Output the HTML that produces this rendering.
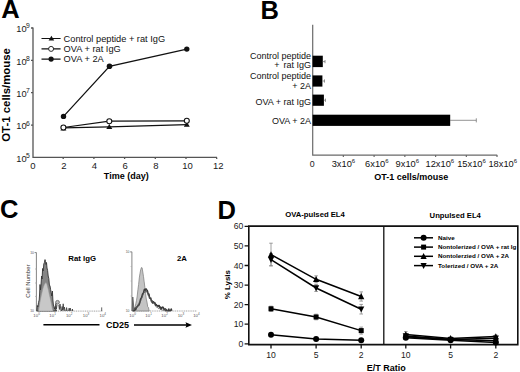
<!DOCTYPE html>
<html><head><meta charset="utf-8">
<style>
html,body{margin:0;padding:0;background:#fff;}
body{width:520px;height:372px;overflow:hidden;}
svg{display:block;font-family:"Liberation Sans",sans-serif;}
.b{font-weight:bold;}
</style></head>
<body>
<svg width="520" height="372" viewBox="0 0 520 372">
<rect width="520" height="372" fill="#fff"/>
<defs>
<circle id="ci" r="3"/>
<rect id="sq" x="-2.5" y="-2.5" width="5" height="5"/>
<path id="ut" d="M0 -3.4 L3.1 2.7 H-3.1 Z"/>
<path id="dt" d="M0 3.4 L3.1 -2.7 H-3.1 Z"/>
</defs>

<!-- ================= PANEL A ================= -->
<text x="1.2" y="17.9" font-size="25.5" class="b">A</text>
<!-- y label -->
<text transform="translate(10.2,94.9) rotate(-90)" text-anchor="middle" font-size="11.4" class="b">OT-1 cells/mouse</text>
<!-- axes -->
<g stroke="#555" stroke-width="1.3" fill="none">
<path d="M33 27.5 V157.4 H217"/>
<path d="M31 28 H33 M31 60.4 H33 M31 92.7 H33 M31 125.1 H33"/>
<path d="M63.2 157.4 V159 M93.9 157.4 V159 M124.6 157.4 V159 M155.3 157.4 V159 M186 157.4 V159 M216.7 157.4 V159"/>
</g>
<g font-size="9.3" fill="#1a1a1a">
<text x="26.6" y="32" text-anchor="end">10</text><text x="26.1" y="28.3" font-size="6.8">9</text>
<text x="26.6" y="64.6" text-anchor="end">10</text><text x="26.1" y="60.9" font-size="6.8">8</text>
<text x="26.6" y="97" text-anchor="end">10</text><text x="26.1" y="93.3" font-size="6.8">7</text>
<text x="26.6" y="129.4" text-anchor="end">10</text><text x="26.1" y="125.7" font-size="6.8">6</text>
<text x="26.6" y="161.6" text-anchor="end">10</text><text x="26.1" y="157.9" font-size="6.8">5</text>
</g>
<g font-size="9.5" fill="#1a1a1a" text-anchor="middle">
<text x="32.8" y="168.9">0</text>
<text x="64" y="168.9">2</text>
<text x="94.5" y="168.9">4</text>
<text x="125.1" y="168.9">6</text>
<text x="155.8" y="168.9">8</text>
<text x="187.5" y="168.9">10</text>
<text x="218.3" y="168.9">12</text>
</g>
<text x="126.3" y="179" font-size="9" class="b" text-anchor="middle">Time (day)</text>
<!-- data -->
<g stroke="#111" stroke-width="1.25" fill="none">
<polyline points="63.5,116.4 109.5,66.3 186.8,49.1"/>
<polyline points="63.4,127.5 109.3,121.2 186.8,120.8"/>
<polyline points="63.4,127.8 109.3,126.8 186.8,124.6"/>
</g>
<g fill="#111">
<circle cx="63.5" cy="116.4" r="2.7"/><circle cx="109.5" cy="66.3" r="2.8"/><circle cx="186.8" cy="49.1" r="2.7"/>
<path d="M63.4 125.6 l3 5 h-6z M109.3 124 l3 5 h-6z M186.8 121.8 l3 5 h-6z"/>
</g>
<g fill="#fff" stroke="#111" stroke-width="1.1">
<circle cx="63.4" cy="127.5" r="2.5"/><circle cx="109.3" cy="121.2" r="2.5"/><circle cx="186.8" cy="120.8" r="2.5"/>
</g>
<!-- legend -->
<g stroke="#111" stroke-width="1.1">
<path d="M41.5 38.5 H60.6 M41.5 48.9 H60.6 M41.5 59.1 H60.6"/>
</g>
<path d="M51.4 35.8 l2.8 4.7 h-5.6z" fill="#111"/>
<circle cx="51.1" cy="48.9" r="2.5" fill="#fff" stroke="#111" stroke-width="0.9"/>
<circle cx="51.1" cy="59.1" r="2.6" fill="#111"/>
<g font-size="9.25" fill="#111">
<text x="63.6" y="41.5">Control peptide + rat IgG</text>
<text x="63.6" y="52.1">OVA + rat IgG</text>
<text x="63.6" y="62.4">OVA + 2A</text>
</g>

<!-- ================= PANEL B ================= -->
<text x="260.4" y="18.6" font-size="25.5" class="b">B</text>
<g stroke="#6a6a6a" stroke-width="1.2" fill="none">
<path d="M312.7 24.8 V155.2 H497.2"/>
<path d="M343.35 155.1 V157 M374.1 155.1 V157 M404.85 155.1 V157 M435.6 155.1 V157 M466.35 155.1 V157 M497 155.1 V157"/>
</g>
<g fill="#000">
<rect x="312.6" y="55.7" width="10.2" height="11.4"/>
<rect x="312.6" y="75.4" width="9.8" height="11.2"/>
<rect x="312.6" y="94.6" width="11.3" height="11.2"/>
<rect x="312.6" y="114.7" width="137.6" height="11.2"/>
</g>
<g stroke="#777" stroke-width="0.8" fill="none">
<path d="M450 120.3 H476.3 M476.3 118.3 V122.4"/>
<path d="M322.8 61.6 H325 M325 60 V63.2"/>
<path d="M322.4 81 H324.5 M324.5 79.4 V82.6"/>
<path d="M323.9 100.2 H325.5 M325.5 98.6 V101.8"/>
</g>
<g font-size="9" fill="#111" text-anchor="end">
<text x="311" y="58.8">Control peptide</text>
<text x="311" y="68.4">+<tspan dx="1.4"> rat IgG</tspan></text>
<text x="311" y="79.1">Control peptide</text>
<text x="311" y="88.8">+ 2A</text>
<text x="311" y="104.8">OVA + rat IgG</text>
<text x="311" y="123.8">OVA + 2A</text>
</g>
<g font-size="8.8" fill="#222" text-anchor="middle">
<text x="312.3" y="166.8">0</text>
</g>
<g font-size="9.3" fill="#111">
<text x="331.7" y="166.8">3x10<tspan font-size="6" dy="-4.1">6</tspan></text>
<text x="365.1" y="166.8">6x10<tspan font-size="6" dy="-4.1">6</tspan></text>
<text x="395.6" y="166.8">9x10<tspan font-size="6" dy="-4.1">6</tspan></text>
<text x="425.5" y="166.8">12x10<tspan font-size="6" dy="-4.1">6</tspan></text>
<text x="457.2" y="166.8">15x10<tspan font-size="6" dy="-4.1">6</tspan></text>
<text x="488.4" y="166.8">18x10<tspan font-size="6" dy="-4.1">6</tspan></text>
</g>
<text x="411.3" y="180.2" font-size="9" class="b" text-anchor="middle">OT-1 cells/mouse</text>

<!-- ================= PANEL C ================= -->
<text x="0" y="218.4" font-size="25.5" class="b">C</text>
<g stroke="#777" stroke-width="0.9" fill="none">
<path d="M36.4 252.5 V311.1 M34.6 252.6 H36.4"/>
<path d="M35.2 269 H36.4 M35.2 283 H36.4 M35.2 296.4 H36.4" stroke="#aaa"/>
<path d="M131.9 251.8 V311 M130.1 251.9 H131.9"/>
<path d="M130.7 266.5 H131.9 M130.7 281 H131.9 M130.7 296 H131.9" stroke="#aaa"/>
</g>
<path d="M36.4 311.1 H103 M131.9 311 H197" stroke="#999" stroke-width="0.9" stroke-dasharray="1.1 0.7" fill="none"/>
<path d="M36.8 311 L37.3 305.5 L37.9 307 L38.5 302.5 L39.2 300 L39.6 294 L40 284.5 L40.5 290 L41 285 L41.6 276 L42.1 279 L42.6 268.5 L43.2 271 L43.8 264 L44.4 262.5 L45 259.6 L45.5 261.5 L46 264.5 L46.5 262.5 L47 268 L47.6 270.5 L48.2 276 L48.8 278.5 L49.4 285 L50 286 L50.6 289.5 L51.2 292.4 L51.8 296 L52.4 291 L52.9 300 L53.4 305 L54 306.5 L54.6 309 L55.3 306.5 L56 309.5 L56.5 311 Z" fill="#858585" stroke="#333" stroke-width="0.9" stroke-linejoin="round"/>
<path d="M38.6 311 L39.5 305 L40.3 300.5 L41.2 296 L42 292.5 L42.8 289 L43.6 286.5 L44.4 284.5 L45.2 283.2 L46 282.6 L46.8 284 L47.6 287 L48.4 290 L49.2 294 L50 297.5 L50.8 301 L51.6 305 L52.4 309 L53 311 Z" fill="#c8c8c8" stroke="#9a9a9a" stroke-width="0.5"/>
<circle cx="57.5" cy="302.3" r="1.9" fill="#bbb" stroke="#555" stroke-width="0.7"/>
<path d="M55.2 311 L55.8 303.5 L56.4 309 L57 305 M58.8 305 L59.4 309.5 L60 304 L60.6 308.5 L61.2 311 M61.5 311 L62.1 306.5 L62.6 310 L63.2 303.8 L63.8 309.5 L64.4 307 L65 311 M66 311 L66.6 307.6 L67.2 311 M68.6 311 L69.1 308.2 L69.6 310.5 L70.2 308 L70.8 311 M72 311 L72.4 309 L72.8 311 M101.7 311 V307.4" stroke="#3a3a3a" stroke-width="0.8" fill="#999" stroke-linejoin="round"/>
<path d="M132.6 311 L133.0 310.5 L133.7 310.1 L134.4 308.1 L135.1 307.2 L135.8 303.8 L136.5 300.4 L137.2 296.1 L137.9 289.8 L138.6 284.5 L139.3 277.9 L140.0 273.3 L140.7 269.7 L141.4 267.6 L142.1 267.8 L142.8 272.0 L143.5 276.6 L144.2 281.8 L144.9 287.4 L145.6 293.8 L146.3 299.1 L147.0 302.1 L147.7 306.6 L148.4 307.3 L149.2 311 Z" fill="#c4c4c4" stroke="#777" stroke-width="0.7"/>
<path d="M132.2 311 L132.8 297 L133.6 305 L134.2 311" fill="#888" stroke="#444" stroke-width="0.7"/>
<path d="M132.8 310.7 L133.4 310.7 L134.0 310.7 L134.6 310.2 L135.2 308.1 L135.8 309.6 L136.4 307.6 L137.0 306.7 L137.6 306.6 L138.2 304.9 L138.8 305.3 L139.4 303.9 L140.0 302.0 L140.6 298.9 L141.2 298.2 L141.8 296.9 L142.4 294.5 L143.0 293.5 L143.6 292.6 L144.2 289.9 L144.8 289.3 L145.4 290.2 L146.0 288.8 L146.6 289.8 L147.2 290.3 L147.8 292.3 L148.4 295.1 L149.0 294.1 L149.6 298.1 L150.2 298.2 L150.8 298.1 L151.4 301.0 L152.0 300.7 L152.6 303.0 L153.2 301.7 L153.8 302.1 L154.4 303.3 L155.0 302.9 L155.6 305.2 L156.2 304.5 L156.8 305.3 L157.4 305.7 L158.0 306.5 L158.6 305.6 L159.2 305.6 L159.8 307.4 L160.4 307.1 L161.0 309.3 L161.6 307.5 L162.2 307.9 L162.8 307.0 L163.4 307.7 L164.0 309.6 L164.6 309.4 L165.2 308.7 L165.8 310.7 L166.4 309.6 L167.0 310.7 L167.6 310.7 L168.2 310.7 L168.8 309.0 L169.4 310.7 L170.0 310.7 L170.6 310.5 L171.2 309.0 L171.8 310.7" fill="none" stroke="#3a3a3a" stroke-width="1.5" stroke-linejoin="round"/>
<path d="M133.5 310.4 L134.2 309.8 L134.9 308.5 L135.6 308.1 L136.3 307.3 L137.0 307.9 L137.7 306.5 L138.4 305.5 L139.1 302.8 L139.8 301.0 L140.5 301.4 L141.2 299.6 L141.9 297.8 L142.6 296.1 L143.3 293.9 L144.0 292.3 L144.7 292.1 L145.4 292.1 L146.1 290.7 L146.8 292.2 L147.5 293.6 L148.2 294.2 L148.9 296.4 L149.6 298.2 L150.3 299.1 L151.0 300.1 L151.7 302.6 L152.4 301.4 L153.1 302.5 L153.8 303.0 L154.5 303.9 L155.2 305.5 L155.9 306.1 L156.6 307.3 L157.3 306.4 L158.0 308.2 L158.7 308.6 L159.4 308.6 L160.1 309.0 L160.8 308.8 L161.5 309.8 L162.2 310.1 L162.9 310.0 L163.6 310.3 L164.3 309.8 L165.0 310.7 L165.7 308.8 L166.4 309.6 L167.1 310.7 L167.8 310.7" fill="none" stroke="#555" stroke-width="0.8" stroke-linejoin="round"/>
<g font-size="4.3" fill="#555" text-anchor="middle"><text x="36.6" y="317">10<tspan font-size="3" dy="-1.6">0</tspan></text><text x="52.6" y="317">10<tspan font-size="3" dy="-1.6">1</tspan></text><text x="69.2" y="317">10<tspan font-size="3" dy="-1.6">2</tspan></text><text x="86" y="317">10<tspan font-size="3" dy="-1.6">3</tspan></text><text x="102.8" y="317">10<tspan font-size="3" dy="-1.6">4</tspan></text><text x="132.6" y="317">10<tspan font-size="3" dy="-1.6">0</tspan></text><text x="148.6" y="317">10<tspan font-size="3" dy="-1.6">1</tspan></text><text x="164.6" y="317">10<tspan font-size="3" dy="-1.6">2</tspan></text><text x="180.9" y="317">10<tspan font-size="3" dy="-1.6">3</tspan></text><text x="196.4" y="317">10<tspan font-size="3" dy="-1.6">4</tspan></text></g>
<g font-size="3.4" fill="#555" text-anchor="end">
<text x="34" y="254">10</text><text x="34" y="312.3">10</text>
<text x="129.5" y="253.3">10</text><text x="129.5" y="312.2">10</text>
</g>
<text transform="translate(29.6,281.2) rotate(-90)" text-anchor="middle" font-size="6" fill="#333">Cell Number</text>
<text x="68.3" y="260.9" font-size="7.8" class="b">Rat IgG</text>
<text x="177" y="261.1" font-size="7.8" class="b">2A</text>
<path d="M43.4 324.8 H99.5 M134 325 H188" stroke="#000" stroke-width="1.4"/>
<path d="M192 325 L185.5 322.2 L186.5 325 L185.5 327.8 Z" fill="#000"/>
<text x="106" y="328" font-size="9" class="b">CD25</text>

<!-- ================= PANEL D ================= -->
<text x="217.5" y="219" font-size="25.5" class="b">D</text>
<text x="285.2" y="217.4" font-size="7.7" class="b">OVA-pulsed EL4</text>
<text x="429.6" y="218.4" font-size="7.7" class="b">Unpulsed EL4</text>
<g stroke="#111" stroke-width="1.6" fill="none"><path d="M248.8 226.1 H517.8 V344.6 H248.8 Z"/><path d="M383.8 226.1 V344.6" stroke-width="1.3"/></g>
<path d="M244.6 343.8 H248.8 M244.6 324.2 H248.8 M244.6 304.6 H248.8 M244.6 285.1 H248.8 M244.6 265.5 H248.8 M244.6 245.9 H248.8 M244.6 226.3 H248.8 " stroke="#111" stroke-width="1.3"/>
<path d="M271 344.6 V348.6 M316.1 344.6 V348.6 M361.2 344.6 V348.6 M405.8 344.6 V348.6 M450.6 344.6 V348.6 M495.8 344.6 V348.6 " stroke="#111" stroke-width="1.3"/>
<g font-size="8.6" fill="#1a1a1a" text-anchor="end"><text x="243.2" y="346.9">0</text><text x="243.2" y="327.3">10</text><text x="243.2" y="307.7">20</text><text x="243.2" y="288.2">30</text><text x="243.2" y="268.6">40</text><text x="243.2" y="249.0">50</text><text x="243.2" y="229.4">60</text></g>
<g font-size="8.6" fill="#1a1a1a" text-anchor="middle"><text x="271" y="357.8">10</text><text x="316.1" y="357.8">5</text><text x="361.2" y="357.8">2</text><text x="405.8" y="357.8">10</text><text x="450.6" y="357.8">5</text><text x="495.8" y="357.8">2</text></g>
<text transform="translate(230.2,284.6) rotate(-90)" text-anchor="middle" font-size="7.9" class="b">% Lysis</text>
<text x="366.8" y="370.9" font-size="9" class="b">E/T Ratio</text>
<path d="M271 333.6 V336.0 M269.2 333.6 H272.8 M269.2 336.0 H272.8 M316.1 338.1 V339.7 M314.3 338.1 H317.90000000000003 M314.3 339.7 H317.90000000000003 M361.2 339.6 V340.8 M359.4 339.6 H363.0 M359.4 340.8 H363.0 M405.8 336.3 V339.3 M404.0 336.3 H407.6 M404.0 339.3 H407.6 M450.6 339.2 V341.2 M448.8 339.2 H452.40000000000003 M448.8 341.2 H452.40000000000003 M495.8 341.6 V343.6 M494.0 341.6 H497.6 M494.0 343.6 H497.6 M271 306.2 V311.4 M269.2 306.2 H272.8 M269.2 311.4 H272.8 M316.1 314.2 V319.8 M314.3 314.2 H317.90000000000003 M314.3 319.8 H317.90000000000003 M361.2 327.1 V334.1 M359.4 327.1 H363.0 M359.4 334.1 H363.0 M405.8 335.3 V338.3 M404.0 335.3 H407.6 M404.0 338.3 H407.6 M450.6 338.4 V340.4 M448.8 338.4 H452.40000000000003 M448.8 340.4 H452.40000000000003 M495.8 339.8 V341.8 M494.0 339.8 H497.6 M494.0 341.8 H497.6 M271 243.2 V266.0 M269.2 243.2 H272.8 M269.2 266.0 H272.8 M316.1 275.8 V282.8 M314.3 275.8 H317.90000000000003 M314.3 282.8 H317.90000000000003 M361.2 291.9 V301.1 M359.4 291.9 H363.0 M359.4 301.1 H363.0 M405.8 331.6 V337.6 M404.0 331.6 H407.6 M404.0 337.6 H407.6 M450.6 336.9 V339.9 M448.8 336.9 H452.40000000000003 M448.8 339.9 H452.40000000000003 M495.8 335.1 V338.1 M494.0 335.1 H497.6 M494.0 338.1 H497.6 M271 253.6 V265.6 M269.2 253.6 H272.8 M269.2 265.6 H272.8 M316.1 284.5 V291.5 M314.3 284.5 H317.90000000000003 M314.3 291.5 H317.90000000000003 M361.2 304.4 V314.0 M359.4 304.4 H363.0 M359.4 314.0 H363.0 M405.8 334.0 V338.0 M404.0 334.0 H407.6 M404.0 338.0 H407.6 M450.6 338.6 V340.6 M448.8 338.6 H452.40000000000003 M448.8 340.6 H452.40000000000003 M495.8 336.7 V339.7 M494.0 336.7 H497.6 M494.0 339.7 H497.6" stroke="#888" stroke-width="0.8" fill="none"/>
<g stroke="#000" stroke-width="1.5" fill="none"><polyline points="271,334.8 316.1,338.9 361.2,340.2"/><polyline points="405.8,337.8 450.6,340.2 495.8,342.6"/><polyline points="271,308.8 316.1,317.0 361.2,330.6"/><polyline points="405.8,336.8 450.6,339.4 495.8,340.8"/><polyline points="271,254.6 316.1,279.3 361.2,296.5"/><polyline points="405.8,334.6 450.6,338.4 495.8,336.6"/><polyline points="271,259.6 316.1,288.0 361.2,309.2"/><polyline points="405.8,336.0 450.6,339.6 495.8,338.2"/></g>
<g fill="#000"><use href="#ci" x="271" y="334.8"/><use href="#ci" x="316.1" y="338.9"/><use href="#ci" x="361.2" y="340.2"/><use href="#ci" x="405.8" y="337.8"/><use href="#ci" x="450.6" y="340.2"/><use href="#ci" x="495.8" y="342.6"/><use href="#sq" x="271" y="308.8"/><use href="#sq" x="316.1" y="317.0"/><use href="#sq" x="361.2" y="330.6"/><use href="#sq" x="405.8" y="336.8"/><use href="#sq" x="450.6" y="339.4"/><use href="#sq" x="495.8" y="340.8"/><use href="#ut" x="271" y="254.6"/><use href="#ut" x="316.1" y="279.3"/><use href="#ut" x="361.2" y="296.5"/><use href="#ut" x="405.8" y="334.6"/><use href="#ut" x="450.6" y="338.4"/><use href="#ut" x="495.8" y="336.6"/><use href="#dt" x="271" y="259.6"/><use href="#dt" x="316.1" y="288.0"/><use href="#dt" x="361.2" y="309.2"/><use href="#dt" x="405.8" y="336.0"/><use href="#dt" x="450.6" y="339.6"/><use href="#dt" x="495.8" y="338.2"/></g>
<g fill="#000"><path d="M414 237.8 H433" stroke="#000" stroke-width="1.5"/><use href="#ci" x="423.6" y="237.8"/><text x="438" y="239.9" font-size="6.25" class="b">Naive</text><path d="M414 247.1 H433" stroke="#000" stroke-width="1.5"/><use href="#sq" x="423.6" y="247.1"/><text x="438" y="249.2" font-size="6.25" class="b">Nontolerized / OVA + rat Ig</text><path d="M414 256.3 H433" stroke="#000" stroke-width="1.5"/><use href="#ut" x="423.6" y="256.3"/><text x="438" y="258.4" font-size="6.25" class="b">Nontolerzied / OVA + 2A</text><path d="M414 265.6 H433" stroke="#000" stroke-width="1.5"/><use href="#dt" x="423.6" y="265.6"/><text x="438" y="267.7" font-size="6.25" class="b">Tolerized / OVA + 2A</text></g>

</svg>
</body></html>
